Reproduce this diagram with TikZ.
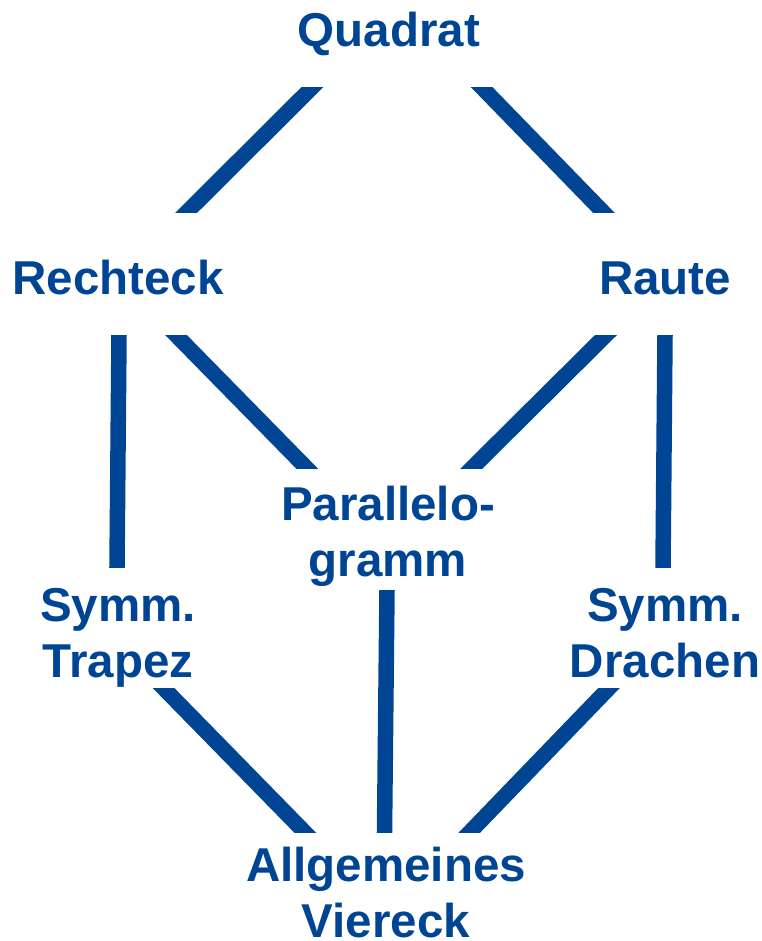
\documentclass[tikz,border=0pt]{standalone}
\usepackage{fontspec}
\setmainfont{Liberation Sans}
\definecolor{vblue}{HTML}{004494}
\begin{document}
\begin{tikzpicture}[x=1pt,y=-1pt,
  lbl/.style={text=vblue,font=\bfseries\fontsize{47.5}{56}\selectfont,inner sep=0pt,align=center,anchor=base},
  conn/.style={draw=vblue,line width=15.5pt,line cap=butt,shorten <=-12pt,shorten >=-12pt}]
\useasboundingbox (0,0) rectangle (761,941);
\coordinate (L) at (0,0);
\coordinate (R) at (761,0);
\node[lbl] (quadrat) at (389,47) {Quadrat};
\node[lbl] (rechteck) at (118,294) {Rechteck};
\node[lbl] (raute) at (665,294) {Raute};
\node[lbl] (para) at (388,576) {Parallelo-\\gramm};
\node[lbl] (trapez) at (118,677) {Symm.\\Trapez};
\node[lbl] (drachen) at (665,677) {Symm.\\Drachen};
\node[lbl] (viereck) at (386,937) {Allgemeines\\Viereck};
% connector end points
\coordinate (q-re) at (311.5,88);  \coordinate (re-q) at (186,213);
\coordinate (q-ra) at (482.5,88);  \coordinate (ra-q) at (604,213);
\coordinate (re-t) at (119,335);   \coordinate (t-re) at (117,567);
\coordinate (re-p) at (176,335);   \coordinate (p-re) at (306.5,468);
\coordinate (ra-p) at (606,335);   \coordinate (p-ra) at (472,468);
\coordinate (ra-d) at (665,335);   \coordinate (d-ra) at (663,567);
\coordinate (p-v) at (387,590);    \coordinate (v-p) at (384.5,832);
\coordinate (t-v) at (163.5,688);  \coordinate (v-t) at (304.5,832);
\coordinate (d-v) at (609,688);    \coordinate (v-d) at (470,832);
\newcommand\joinline[2]{%
  \begin{scope}
    \clip (#1 -| L) rectangle (#2 -| R);
    \draw[conn] (#1) -- (#2);
  \end{scope}}
\joinline{q-re}{re-q}
\joinline{q-ra}{ra-q}
\joinline{re-t}{t-re}
\joinline{re-p}{p-re}
\joinline{ra-p}{p-ra}
\joinline{ra-d}{d-ra}
\joinline{p-v}{v-p}
\joinline{t-v}{v-t}
\joinline{d-v}{v-d}
\end{tikzpicture}
\end{document}
